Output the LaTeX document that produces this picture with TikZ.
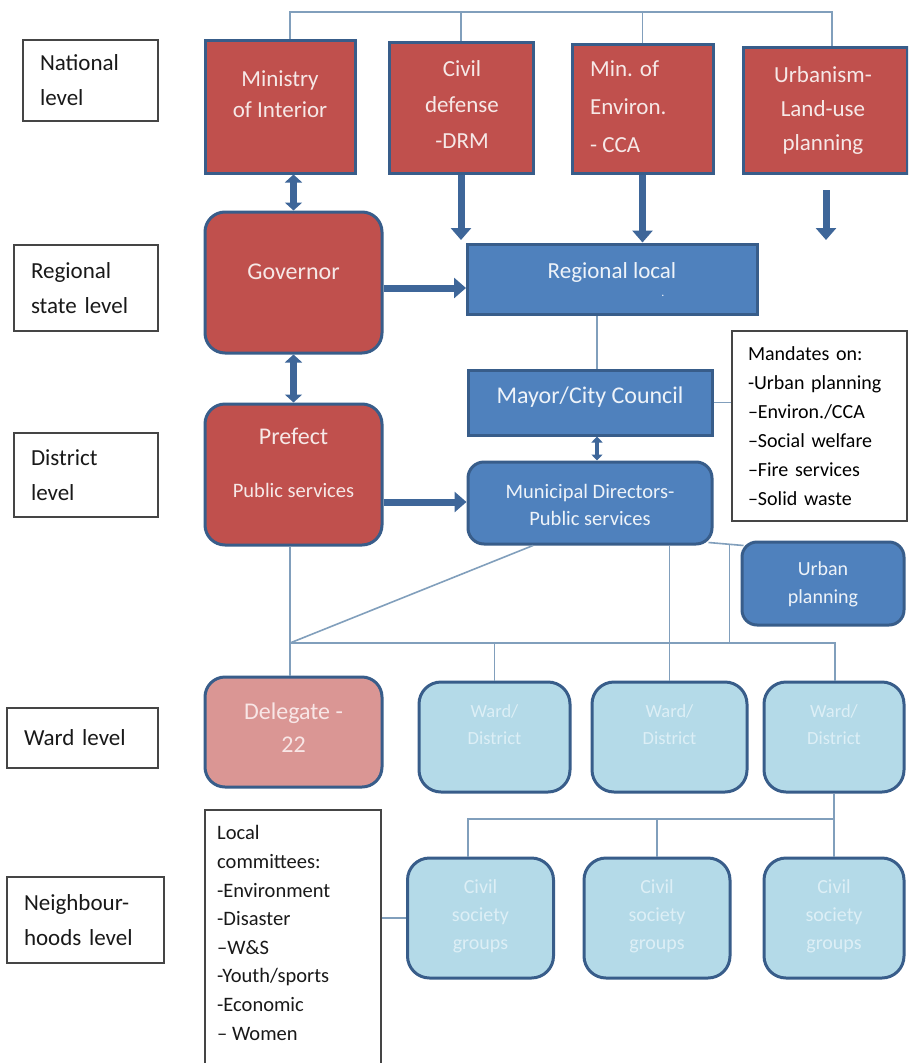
\documentclass[tikz,border=0pt]{standalone}
\usepackage{fontspec}
\setmainfont{Carlito}
\usetikzlibrary{arrows.meta,calc}
\definecolor{redc}{HTML}{C0504D}
\definecolor{bluec}{HTML}{4F81BD}
\definecolor{lbc}{HTML}{B4DAE8}
\definecolor{pinkc}{HTML}{DA9694}
\definecolor{bordc}{HTML}{385D8A}
\definecolor{arrc}{HTML}{3E6699}
\definecolor{connc}{HTML}{819FBC}
\definecolor{grayc}{HTML}{454545}
\definecolor{redtxt}{HTML}{F6E8E7}
\definecolor{bluetxt}{HTML}{EEF3F9}
\definecolor{lbtxt}{HTML}{DDEFF6}
\definecolor{pinktxt}{HTML}{F8E6E6}
\newcommand\myfs[2]{\fontsize{#1}{#2}\selectfont}
\tikzset{
  box/.style={draw=bordc, line width=3pt, inner sep=0pt},
  redbox/.style={box, fill=redc},
  bluebox/.style={box, fill=bluec},
  lbbox/.style={box, fill=lbc, rounded corners=22pt},
  pinkbox/.style={box, fill=pinkc, rounded corners=20pt},
  lvl/.style={draw=grayc, line width=1.8pt, fill=white, align=left, inner ysep=0pt, inner xsep=17pt, text=black!90, font=\myfs{23}{35}},
  txt/.style={align=center, inner sep=0pt},
  redtext/.style={txt, text=redtxt, font=\myfs{23}{34}},
  bluetext/.style={txt, text=bluetxt},
  lbtext/.style={txt, text=lbtxt},
  conn/.style={draw=connc, line width=1.6pt},
  arr/.style={draw=arrc, line width=7pt, -{Triangle[width=20pt,length=12pt]}},
  darr/.style={draw=arrc, line width=7pt, {Triangle[width=17pt,length=8pt]}-{Triangle[width=17pt,length=8pt]}},
  darrs/.style={draw=arrc, line width=4pt, {Triangle[width=11pt,length=6pt]}-{Triangle[width=11pt,length=6pt]}},
}
\begin{document}
\begin{tikzpicture}[x=1pt,y=-1pt]
\useasboundingbox (0,0) rectangle (908,1063);
\clip (0,0) rectangle (908,1063);
\fill[white] (0,0) rectangle (908,1063);

% level labels
\node[lvl, text width=101pt, minimum height=81pt, inner xsep=17pt] (L1) at (90.5,80.5) {National\\level};
\node[lvl, text width=110pt, minimum height=86pt] (L2) at (86,288) {Regional\\state level};
\node[lvl, text width=110pt, minimum height=84pt] (L3) at (86,475) {District\\level};
\node[lvl, text width=117pt, minimum height=60pt] (L4) at (82.5,738) {Ward level};
\node[lvl, text width=123pt, minimum height=86pt] (L5) at (85.5,920) {Neighbour-\\hoods level};

% national boxes
\node[redbox, minimum width=150pt, minimum height=133pt] (mi) at (280,106.5) {};
\node[redbox, minimum width=144pt, minimum height=131pt] (cd) at (461,107.5) {};
\node[redbox, minimum width=141pt, minimum height=129pt] (me) at (642.5,108.5) {};
\node[redbox, minimum width=164pt, minimum height=126pt] (ul) at (825,110) {};
\node[redtext, font=\myfs{23}{31}] (mit) at (280,94) {Ministry\\of Interior};
\node[redtext, font=\myfs{23}{36}] (cdt) at (462,105) {Civil\\defense\\-DRM};
\node[redtext, font=\myfs{23}{38}, align=left, anchor=west] (met) at (590,107) {Min. of\\Environ.\\- CCA};
\node[redtext, font=\myfs{23}{34}] (ult) at (823,110) {Urbanism-\\Land-use\\planning};

% top connector
\coordinate (top1) at (290,12);
\coordinate (top4) at (832,12);
\draw[conn] (top1 |- mi.north) -- (top1) -- (top4) -- (top4 |- ul.north);
\draw[conn] (cd.north) -- (cd.north |- top1);
\draw[conn] (me.north) -- (me.north |- top1);

% regional
\node[redbox, rounded corners=20pt, minimum width=177pt, minimum height=141pt] (gv) at (293.5,282.5) {};
\node[redtext, font=\myfs{24}{30}] (gvt) at (293.5,272) {Governor};
\node[bluebox, minimum width=290pt, minimum height=70pt] (rl) at (612.5,279) {};
\node[bluetext, font=\myfs{23}{30}] (rlt) at (612,272) {Regional local};
\node[bluetext, font=\myfs{12}{14}] (rld) at (663,296) {.};

\draw[darr] (mi.south -| gv.north) -- (gv.north);
\coordinate (cdend) at (461,240);
\draw[arr] (cd.south) -- (cdend);
\draw[arr] (me.south) -- (me.south |- rl.north);
\coordinate (ulst) at (826,190);
\coordinate (ulend) at (826,240);
\draw[arr] (ulst) -- (ulend);
\coordinate (g1) at ([yshift=-5.5pt]gv.east);
\draw[arr] (g1) -- (g1 -| rl.west);

% district
\node[redbox, rounded corners=20pt, minimum width=177pt, minimum height=141pt] (pf) at (293.5,474.5) {};
\node[redtext, font=\myfs{24}{30}] (pft1) at (293.5,436) {Prefect};
\node[redtext, font=\myfs{20.5}{26}] (pft2) at (293.5,490) {Public services};
\draw[darr] (gv.south) -- (gv.south |- pf.north);

\node[bluebox, minimum width=244pt, minimum height=65pt] (my) at (590,402.5) {};
\node[bluetext, font=\myfs{24}{30}] (myt) at (590,397) {Mayor/City Council};
\node[bluebox, rounded corners=16pt, minimum width=244pt, minimum height=82pt] (mu) at (590,503) {};
\node[bluetext, font=\myfs{20.5}{27}] (mut) at (590,505) {Municipal Directors-\\Public services};

\coordinate (myn) at ([xshift=7pt]my.north);
\draw[conn] (myn) -- (myn |- rl.south);
\coordinate (mys) at ([xshift=7pt]my.south);
\draw[darrs] (mys) -- (mys |- mu.north);
\coordinate (p1) at ([yshift=-27.5pt]pf.east);
\draw[arr] (p1) -- (p1 -| mu.west);

\node[draw=grayc, line width=1.8pt, fill=white, align=left, text width=143pt, inner xsep=16pt, inner ysep=0pt, minimum height=190pt, font=\myfs{20}{29}] (md) at (819.5,426) {Mandates on:\\-Urban planning\\–Environ./CCA\\–Social welfare\\–Fire services\\–Solid waste};
\draw[conn] (my.east) -- (my.east -| md.west);

\node[bluebox, rounded corners=15pt, minimum width=162pt, minimum height=83pt] (up) at (823,583.5) {};
\node[bluetext, font=\myfs{20}{28}] (upt) at (823,584) {Urban\\planning};
\coordinate (mucorner) at ([xshift=-5pt,yshift=3pt]mu.south east);
\coordinate (upcorner) at ([xshift=3pt,yshift=-5pt]up.north west);
\draw[conn] (mucorner) -- (upcorner);

% ward level
\node[pinkbox, minimum width=177pt, minimum height=110pt] (dg) at (293.5,732) {};
\node[txt, text=pinktxt, font=\myfs{24}{33}] (dgt) at (293.5,728) {Delegate -\\22};
\node[lbbox, minimum width=151pt, minimum height=110pt] (w1) at (494.5,737) {};
\node[lbbox, minimum width=155pt, minimum height=110pt] (w2) at (669.5,737) {};
\node[lbbox, minimum width=140pt, minimum height=110pt] (w3) at (834,737) {};
\node[lbtext, font=\myfs{18.5}{27}] (w1t) at (494.5,725) {Ward/\\District};
\node[lbtext, font=\myfs{18.5}{27}] (w2t) at (669.5,725) {Ward/\\District};
\node[lbtext, font=\myfs{18.5}{27}] (w3t) at (834,725) {Ward/\\District};

\coordinate (h1) at (290,643);
\coordinate (h2) at (835,643);
\draw[conn] (pf.south -| h1) -- (h1 |- dg.north);
\draw[conn] (h1) -- (h2) -- (h2 |- w3.north);
\coordinate (ms) at ([xshift=-57pt]mu.south);
\draw[conn] (ms) -- (h1);
\draw[conn] (w1.north) -- (w1.north |- h1);
\draw[conn] (mu.south -| w2.north) -- (w2.north);
\coordinate (uj) at ($(mucorner)!0.6!(upcorner)$);
\draw[conn] (uj) -- (uj |- h1);

% neighbourhoods
\node[lbbox, minimum width=146pt, minimum height=120pt] (cs1) at (480.5,918) {};
\node[lbbox, minimum width=146pt, minimum height=120pt] (cs2) at (657,918) {};
\node[lbbox, minimum width=140pt, minimum height=120pt] (cs3) at (834,918) {};
\node[lbtext, font=\myfs{20}{28}] (cs1t) at (480.5,916) {Civil\\society\\groups};
\node[lbtext, font=\myfs{20}{28}] (cs2t) at (657,916) {Civil\\society\\groups};
\node[lbtext, font=\myfs{20}{28}] (cs3t) at (834,916) {Civil\\society\\groups};

\coordinate (nl) at (468,819);
\draw[conn] (w3.south) -- (w3.south |- cs3.north);
\draw[conn] (nl -| w3.south) -- (nl) -- (nl |- cs1.north);
\draw[conn] (cs2.north) -- (cs2.north |- nl);

\node[draw=grayc, line width=1.8pt, fill=white, minimum width=176pt, minimum height=265pt] (lc) at (293,942.5) {};
\node[txt, align=left, anchor=west, text=black!90, font=\myfs{20.5}{28.6}] (lct) at (217,933) {Local\\committees:\\-Environment\\-Disaster\\–W\&S\\-Youth/sports\\-Economic\\– Women};
\draw[conn] (lc.east |- cs1.west) -- (cs1.west);
\end{tikzpicture}
\end{document}
